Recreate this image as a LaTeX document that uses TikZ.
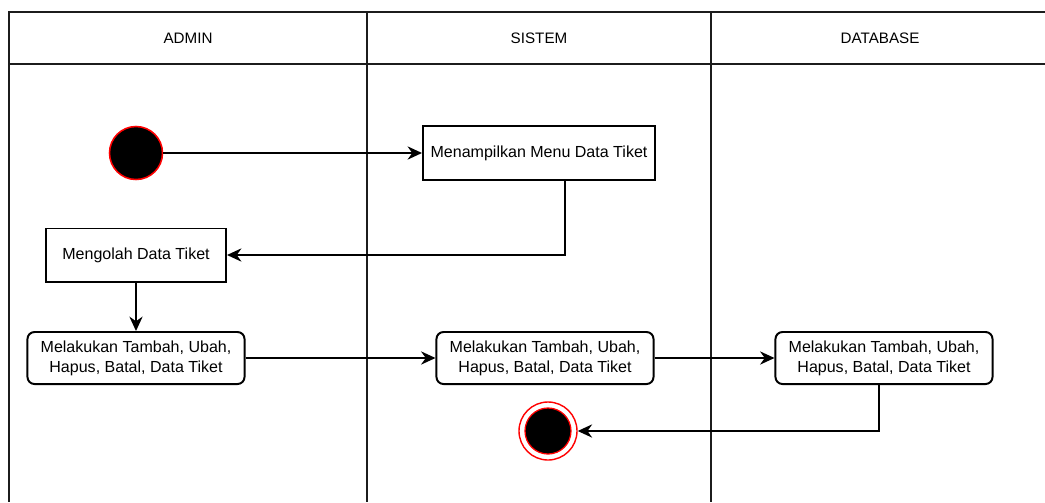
\documentclass[tikz,border=0pt]{standalone}
\usepackage{fontspec}
\setmainfont{Liberation Sans}
\usetikzlibrary{arrows.meta,positioning}
\definecolor{lanegray}{HTML}{1C1C1C}
\definecolor{umlred}{HTML}{FF0000}
\tikzset{
  >={Stealth[length=3.6mm,width=3.3mm]},
  % lajur
  lane/.style={draw=lanegray,line width=1.9pt},
  lanehead/.style={font=\fontsize{10.8}{12}\selectfont,inner sep=0pt},
  % aktivitas
  act/.style={draw=black,line width=1.4pt,fill=white,align=center,inner sep=0pt,
              font=\fontsize{11.4}{14.2}\selectfont},
  actr/.style={act,rounded corners=5pt,minimum width=5.425cm,minimum height=1.3cm},
  flow/.style={->,draw=black,line width=1.4pt},
  mulai/.style={circle,fill=black,draw=umlred,line width=1.1pt,minimum size=1.325cm},
  selesai/.style={circle,fill=white,draw=umlred,line width=1pt,minimum size=1.45cm},
  selesaiinti/.style={circle,fill=black,draw=umlred,line width=0.9pt,minimum size=1.15cm},
}
\begin{document}
\begin{tikzpicture}[x=0.025cm,y=-0.025cm]
\useasboundingbox (0,0) rectangle (1045,502);
  % swimlane
  \draw[lane] (1045,12) -- (9,12) -- (9,502);
  \draw[lane] (9,64) -- (1045,64);
  \draw[lane] (367,12) -- (367,502);
  \draw[lane] (711,12) -- (711,502);
  \node[lanehead] (hadmin) at (188,38) {ADMIN};
  \node[lanehead] (hsistem) at (539,38) {SISTEM};
  \node[lanehead] (hdb) at (880,38) {DATABASE};

  \node[mulai] (start) at (136,153) {};
  \node[act,minimum width=5.8cm,minimum height=1.35cm] (menu) at (539,153) {Menampilkan Menu Data Tiket};
  \node[act,minimum width=4.5cm,minimum height=1.325cm] (olah) at (136,255) {Mengolah Data Tiket};
  \node[actr] (ubahA) at (136,358) {Melakukan Tambah, Ubah,\\Hapus, Batal, Data Tiket};
  \node[actr] (ubahS) at (545,358) {Melakukan Tambah, Ubah,\\Hapus, Batal, Data Tiket};
  \node[actr] (ubahD) at (884,358) {Melakukan Tambah, Ubah,\\Hapus, Batal, Data Tiket};
  \node[selesai] (fin) at (548,431) {};
  \node[selesaiinti] (fininti) at (fin) {};

  \draw[flow] (start) -- (menu);
  \draw[flow] (menu.south -| 565,0) |- (olah.east);
  \draw[flow] (olah) -- (ubahA);
  \draw[flow] (ubahA) -- (ubahS);
  \draw[flow] (ubahS) -- (ubahD);
  \draw[flow] (ubahD.south -| 879,0) |- (fin.east);
\end{tikzpicture}
\end{document}
